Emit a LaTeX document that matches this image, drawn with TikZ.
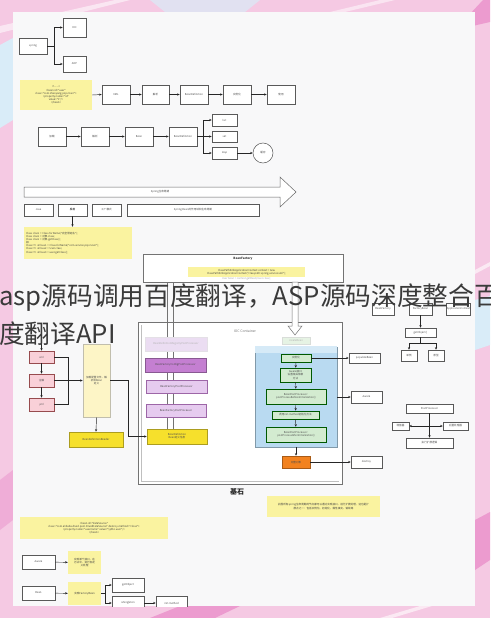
\documentclass[tikz,border=0pt]{standalone}
\usepackage{fontspec}
\newfontfamily\cjk{Noto Sans CJK SC}
\usetikzlibrary{arrows.meta}
\definecolor{bgpink}{HTML}{F5C9E3}
\definecolor{bgmag}{HTML}{EC9BCF}
\definecolor{bgblue}{HTML}{D9ECF8}
\definecolor{panel}{HTML}{F8F8F9}
\definecolor{noteY}{HTML}{FAF3A0}
\definecolor{purF}{HTML}{EBDDF2}
\definecolor{purD}{HTML}{C47FD1}
\definecolor{purL}{HTML}{E6CBEF}
\definecolor{yel}{HTML}{F6E02C}
\definecolor{yelL}{HTML}{FDF5C6}
\definecolor{pinkB}{HTML}{F9D0D8}
\definecolor{grn}{HTML}{D3EBD0}
\definecolor{grnF}{HTML}{E6F3E4}
\definecolor{blu}{HTML}{B9DAF1}
\definecolor{bluL}{HTML}{D6EAF7}
\definecolor{org}{HTML}{F2821F}
\definecolor{ovl}{HTML}{3A3A3A}
\newcommand\tf{\cjk\fontsize{2.6}{3.1}\selectfont}
\newcommand\B[7]{\node[bx,#6,minimum width=#4pt,minimum height=#5pt] (#1) at (#2,#3) {#7};}
\begin{document}
\begin{tikzpicture}[x=1pt,y=-1pt,
  bx/.style={draw=black!65,fill=white,line width=0.5pt,inner sep=0.4pt,align=center,font=\tf,text=black!70},
  note/.style={fill=noteY,draw=none,text=black!75},
  pur/.style={fill=purL,draw=purD!80!black},
  yb/.style={fill=yel,draw=yel!70!black},
  pk/.style={fill=pinkB,draw=pinkB!60!red!60!black},
  gb/.style={fill=grn,draw=green!35!black},
  ar/.style={-{Stealth[length=2.6pt,width=2.2pt]},line width=0.45pt,draw=black!85},
  ln/.style={line width=0.45pt,draw=black!85},
  ovtext/.style={font=\cjk\fontsize{25.7}{30}\selectfont,anchor=west,inner sep=0}]
\useasboundingbox (0,0) rectangle (490,618);
% ---------- background ----------
\fill[bgpink] (0,0) rectangle (490,618);
\fill[bgblue] (0,45) -- (13,38) -- (13,120) -- (0,128) -- cycle;
\fill[white,opacity=0.55] (0,26) -- (115,0) -- (130,0) -- (0,33) -- cycle;
\fill[bgblue,opacity=0.7] (150,0) -- (260,0) -- (245,12) -- (165,12) -- cycle;
\fill[white,opacity=0.5] (330,12) -- (380,0) -- (395,0) -- (345,12) -- cycle;
\fill[bgmag] (455,30) -- (483,0) -- (490,0) -- (490,22) -- cycle;
\fill[bgblue] (475,300) -- (490,296) -- (490,345) -- (475,350) -- cycle;
\fill[white,opacity=0.6] (475,270) -- (490,262) -- (490,266) -- (475,274) -- cycle;
\fill[bgmag] (475,520) -- (490,512) -- (490,560) -- (475,570) -- cycle;
\fill[bgmag] (150,618) -- (180,606) -- (240,606) -- (215,618) -- cycle;
\fill[white,opacity=0.6] (380,618) -- (420,606) -- (432,606) -- (392,618) -- cycle;
\fill[bgmag,opacity=0.6] (0,480) -- (13,470) -- (13,520) -- (0,530) -- cycle;
% ---------- panel ----------
\fill[panel] (13,12) rectangle (475,606);
\begin{scope}
\clip (13,12) rectangle (475,606);
% row 1
\B{spring}{33}{46}{28}{16}{}{spring}
\B{ioc}{74.5}{27.5}{23}{19}{}{IOC}
\B{aop}{74.5}{64}{23}{16}{}{AOP}
\coordinate (sp1) at (54,46);
\draw[ln] (spring.east) -- (sp1);
\draw[ar] (sp1) |- (ioc.west);
\draw[ar] (sp1) |- (aop.west);
% row 2
\node[note,font=\tf,align=center,minimum width=72pt,minimum height=30pt,inner sep=0] (note1) at (56,95)
 {<!-- -->\\<bean id="user"\\class="com.zhaoyang.pojo.User">\\<property name="id"\\value="1"/>\\</bean>};
\B{r2a}{116}{94.5}{28}{19}{}{XML}
\B{r2b}{155.5}{94.5}{27}{19}{}{解析}
\B{r2c}{194}{94.5}{28}{19}{}{BeanDefinition}
\B{r2d}{237}{94.5}{28}{19}{}{实例化}
\B{r2e}{281}{94.5}{28}{19}{}{使用}
\draw[ar] (note1.east) -- (r2a.west);
\draw[ar] (r2a) -- (r2b);
\draw[ar] (r2b) -- (r2c);
\draw[ar] (r2c) -- (r2d);
\draw[ar] (r2d) -- (r2e);
% row 3
\B{r3a}{52}{136.5}{28}{19}{}{加载}
\B{r3b}{95}{136.5}{28}{19}{}{解析}
\B{r3c}{139}{136.5}{28}{19}{}{Bean}
\B{r3d}{183}{136.5}{28}{19}{}{BeanDefinition}
\B{b1}{224.5}{120}{25}{12}{}{list}
\B{b2}{224.5}{136.5}{25}{11}{}{set}
\B{b3}{224.5}{153}{25}{12}{}{map}
\node[bx,circle,minimum size=20pt] (cache) at (263,153) {缓存};
\draw[ar] (r3a) -- (r3b);
\draw[ar] (r3b) -- (r3c);
\draw[ar] (r3c) -- (r3d);
\coordinate (sp2) at (203,136.5);
\draw[ln] (r3d.east) -- (sp2);
\draw[ar] (sp2) |- (b1.west);
\draw[ar] (sp2) -- (b2.west);
\draw[ar] (sp2) |- (b3.west);
\draw[ar] (b3) -- (cache);
% big arrow
\draw[black!60,fill=white,line width=0.5pt] (24,187) -- (280,187) -- (280,177) -- (296,192) -- (280,207) -- (280,197) -- (24,197) -- cycle;
\node[font=\tf,text=black!70] (lifecycle) at (160,192) {Spring生命周期};
% row 4
\B{j1}{38.5}{210}{29}{12}{}{Java}
\B{j2}{72.5}{210}{29}{12}{}{\textbf{反射}}
\B{j3}{106.5}{210}{29}{12}{}{工厂模式}
\B{j4}{193}{210}{132}{12}{}{Spring Bean的作用域和生命周期}
\node[note,font=\tf,align=left,minimum width=108pt,minimum height=32pt,inner sep=2pt,text width=104pt] (note2) at (78,243)
 {Class clazz = Class.forName("完全限定名");\\Class clazz = 对象.class;\\Class clazz = 对象.getClass();\\如:\\
  Class<?> aClass1 = Class.forName("com.service.pojo.User");\\Class<?> aClass2 = User.class;\\Class<?> aClass3 = user.getClass();};
\draw[ar] (j2.south) -- (j2.south |- note2.north);
% BeanFactory
\node[draw=black!55,fill=white,line width=0.5pt,minimum width=200pt,minimum height=28pt,inner sep=0] (bf) at (243,268) {};
\node[font=\cjk\fontsize{3}{3.5}\selectfont\bfseries,text=black!80] (bft) at (243,259) {BeanFactory};
\node[note,font=\tf,align=center,minimum width=117pt,minimum height=10pt,inner sep=0] (bfn) at (246.5,272)
 {ClassPathXmlApplicationContext context = new\\ClassPathXmlApplicationContext("classpath:spring-service.xml");};
\node[font=\tf,text=black!35] (bfn2) at (246.5,279) {User bean = context.getBean(User.class);};
% IOC container / 基石
\node[draw=black!55,fill=white,line width=0.6pt,minimum width=204pt,minimum height=162pt,inner sep=0] (ioccon) at (240,403) {};
\draw[black!25,line width=0.5pt] (141,325) -- (141,481) -- (339,481);
\node[font=\cjk\fontsize{3.4}{4}\selectfont,text=black!55] (ioct) at (245,331) {IOC Container};
\node[font=\cjk\fontsize{7}{8}\selectfont\bfseries,text=black!85] (jishi) at (237,492) {基石};
% double lines and hollow arrow from BeanFactory
\draw[black!55,line width=0.5pt] (167,282) -- (167,429) (173,282) -- (173,429);
\draw[black!55,fill=white,line width=0.5pt] (292,282) -- (298,282) -- (298,326) -- (302,326) -- (295,335) -- (288,326) -- (292,326) -- cycle;
% purple column
\B{p0}{176}{344}{62}{14}{fill=purF,draw=purF!80!black!40,text=black!30}{BeanDefinitionRegistryPostProcessor}
\B{p1}{175.5}{365}{61}{14}{fill=purD,draw=purD!70!black}{BeanFactoryConfigPostProcessor}
\B{p2}{176.5}{386.5}{61}{13}{pur}{BeanFactoryPostProcessor}
\B{p3}{176}{410.5}{60}{13}{pur}{BeanFactoryPostProcessor}
\B{bd}{177}{436.5}{60}{15}{yb}{BeanDefinition\\Bean定义信息}
% pink + reader
\B{k1}{41.5}{357}{25}{12}{pk}{xml}
\B{k2}{41.5}{380.5}{25}{13}{pk}{注解}
\B{k3}{41.5}{404.5}{25}{13}{pk}{yml}
\B{tall}{96.5}{380.5}{27}{73}{fill=yelL,draw=yelL!60!black!60}{加载配置文件，解\\析成Bean\\定义}
\B{reader}{96}{439.5}{54}{15}{yb}{BeanDefinitionReader}
\coordinate (kin) at (41.5,334);
\draw[ar] (kin) -- (k1.north);
\draw[ar] (k1) -- (k2);
\draw[ar] (k2) -- (k3);
\draw[ln] (k1.east) -- (68,357) -- (68,404.5) -- (k3.east);
\draw[ar] (k2.east) -- (tall.west);
\draw[ar] (tall.south) -- (reader.north);
\draw[ar] (tall.east) -- (128,380.5) |- (bd.west);
% green / blue
\B{g0}{296}{340.5}{28}{7}{fill=grnF,draw=grnF!70!black!40,text=black!30}{createBean}
\node[fill=blu,draw=blu!70!black,line width=0.5pt,minimum width=82pt,minimum height=100pt,inner sep=0] (blue) at (296,397) {};
\fill[bluL] ([shift={(0.5,-0.5)}]blue.north west) rectangle ([shift={(-0.5,6)}]blue.north east);
\B{g1}{296}{358}{30}{8}{gb}{实例化}
\B{g2}{295.5}{375}{31}{14}{gb}{Aware接口\\设置相关依赖\\方法}
\B{g3}{296}{396.5}{60}{15}{gb}{BeanPostProcessor:\\postProcessBeforeInitialization()}
\B{g4}{295.5}{415}{47}{8}{gb}{调用init-method初始化方法}
\B{g5}{296}{434.5}{60}{15}{gb}{BeanPostProcessor:\\postProcessAfterInitialization()}
\B{orange}{296}{462}{28}{12}{fill=org,draw=org!70!black}{完整对象}
\B{rb1}{364.5}{358}{31}{10}{}{populateBean}
\B{rb2}{366.5}{397}{31}{12}{}{Aware}
\B{rb3}{366.5}{462}{31}{12}{}{destroy}
\draw[ar] (g1) -- (g2);
\draw[ar] (g2) -- (g3);
\draw[ar] (g3) -- (g4);
\draw[ar] (g4) -- (g5);
\draw[ar] (g1.east) -- (rb1.west);
\draw[ar] (blue.east |- rb2.west) -- (rb2.west);
\draw[ar] (blue.south) -- (orange.north);
\draw[ar] (orange.east) -- (rb3.west);
% right group
\B{t1}{383}{309}{22}{12}{}{BeanFactory}
\B{t2}{420.5}{309}{23}{12}{}{FactoryBean}
\B{t3}{458.5}{309}{23}{12}{}{ApplicationContext}
\B{gobj}{420.5}{332.5}{31}{9}{}{getObject()}
\B{s1}{409}{355.5}{16}{11}{}{单例}
\B{s2}{436}{355.5}{16}{11}{}{原型}
\draw[ar] (t2) -- (gobj);
\coordinate (sp3) at (420.5,343);
\draw[ln] (gobj.south) -- (sp3);
\draw[ln] (s1.north |- sp3) -- (s2.north |- sp3);
\draw[ar] (s1.north |- sp3) -- (s1.north);
\draw[ar] (s2.north |- sp3) -- (s2.north);
% post processor group
\B{pp}{429.5}{408.5}{47}{9}{}{PostProcessor}
\B{pb}{429.5}{443}{47}{10}{}{执行扩展逻辑}
\B{pl}{400.5}{426}{17}{8}{}{增强器}
\B{pr}{455.5}{426}{25}{8}{}{后置处理器}
\coordinate (sp4) at (429.5,426);
\draw[ar] (pp) -- (pb);
\draw[ar] (sp4) -- (pl.east);
\draw[ar] (sp4) -- (pr.west);
% bottom notes
\node[note,font=\tf,align=center,minimum width=113pt,minimum height=21pt,inner sep=0] (note3) at (323.5,506.5)
 {此图所有spring生命周期的节点都可以通过实现接口，进行扩展处理，这也是扩\\展点之一：包括实例化、初始化、属性填充、销毁等};
\node[note,font=\tf,align=center,minimum width=148pt,minimum height=22pt,inner sep=0] (note4) at (94,528)
 {<bean id="dataSource"\\class="com.alibaba.druid.pool.DruidDataSource" destroy-method="close">\\<property name="username" value="\${jdbc.user}"/>\\</bean>};
\B{c1}{38.5}{562}{33}{14}{}{Aware}
\node[note,font=\tf,align=center,minimum width=33pt,minimum height=23pt,inner sep=0] (n5) at (84.5,562.5) {实现某个接口，在\\方法中，进行自定\\义处理};
\B{c2}{38.5}{593}{33}{14}{}{Bean}
\node[note,font=\tf,align=center,minimum width=33pt,minimum height=23pt,inner sep=0] (n6) at (84.5,593.5) {实现FactoryBean};
\B{d1}{128}{585}{32}{14}{}{getObject}
\B{d2}{128}{603}{32}{14}{}{isSingleton}
\B{d3}{171.5}{603}{31}{14}{}{init-method}
\draw[ar] (c1) -- (n5);
\draw[ar] (c2) -- (n6);
\coordinate (sp5) at (105,593.5);
\draw[ln] (n6.east) -- (sp5);
\draw[ar] (sp5) |- (d1.west);
\draw[ar] (sp5) |- (d2.west);
\draw[ar] (d2) -- (d3);
\end{scope}
% ---------- overlay title ----------
\node[ovtext,text=ovl] (title1) at (-1,298) {asp源码调用百度翻译，ASP源码深度整合百};
\node[ovtext,text=ovl] (title2) at (-1,334) {度翻译API};
\end{tikzpicture}
\end{document}
